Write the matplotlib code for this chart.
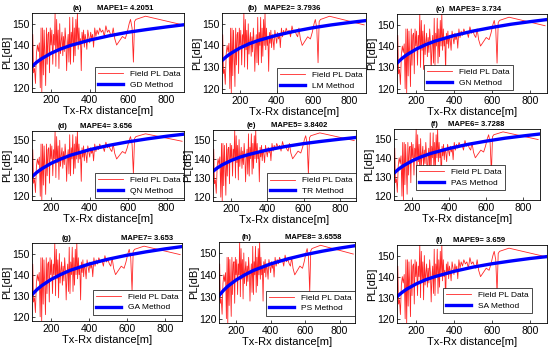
import matplotlib
matplotlib.use("Agg")
import matplotlib.pyplot as plt

plt.rcParams['font.family'] = ['Liberation Sans', 'DejaVu Sans']

# field measurements, same in every panel
dist = [100, 104, 108, 113, 118, 123, 128, 133, 138, 143, 147, 151, 155, 159, 163,
        167, 171, 175, 179, 183, 187, 191, 195, 199, 203, 208, 212, 216, 220, 224,
        228, 232, 236, 240, 244, 248, 252, 256, 260, 264, 268, 272, 276, 280, 284,
        288, 292, 296, 300, 304, 308, 312, 316, 320, 324, 328, 332, 336, 340, 344,
        348, 352, 356, 360, 364, 368, 372, 376, 380, 385, 390, 395, 400, 405, 410,
        415, 420, 426, 432, 438, 445, 452, 460, 468, 476, 484, 492, 500, 508, 515,
        522, 530, 540, 555, 570, 585, 595, 605, 612, 620, 627, 633, 640, 690, 880]
pl_field = [128, 145, 127, 129, 122, 136, 140, 137, 141, 120, 148, 118, 148, 126, 147,
            135, 121, 148, 131, 145, 146, 127, 148, 140, 147, 131, 145, 140, 155, 130,
            152, 138, 147, 129, 150, 136, 142, 146, 135, 144, 137, 148, 142, 128, 140,
            145, 132, 153, 131, 146, 140, 153, 132, 148, 135, 152, 140, 155, 138, 148,
            140, 143, 128, 146, 141, 147, 139, 145, 143, 138, 147, 144, 141, 146, 143,
            145, 139, 148, 144, 147, 145, 148, 146, 147, 144, 149, 146, 147, 145, 144,
            148, 143, 140, 142, 144, 143, 146, 150, 152, 148, 132, 151, 152, 153.5, 149.5]

# fitted curves
fit_x = [100, 125, 150, 200, 250, 300, 400, 500, 600, 700, 800, 890]
gd_fit = [130, 132.0, 133.6, 136.2, 138.2, 139.8, 142.3, 144.3, 146.0, 147.3, 148.5, 149.5]
lm_fit = [133, 134.9, 136.4, 138.9, 140.8, 142.3, 144.7, 146.6, 148.2, 149.5, 150.6, 151.5]
gn_fit = [132, 134.1, 135.8, 138.5, 140.6, 142.3, 144.9, 147.0, 148.7, 150.2, 151.4, 152.4]
qn_fit = [130.5, 132.8, 134.7, 137.7, 140.0, 142.0, 145.0, 147.3, 149.2, 150.8, 152.2, 153.3]
tr_fit = [133.5, 135.3, 136.8, 139.1, 140.9, 142.3, 144.6, 146.4, 147.9, 149.1, 150.2, 151.1]
pas_fit = [132, 134.1, 135.8, 138.5, 140.6, 142.3, 144.9, 147.0, 148.7, 150.2, 151.4, 152.4]
ga_fit = [130.5, 132.8, 134.7, 137.7, 140.0, 142.0, 145.0, 147.3, 149.2, 150.8, 152.2, 153.3]
ps_fit = [130.5, 132.8, 134.7, 137.7, 140.0, 142.0, 145.0, 147.3, 149.2, 150.8, 152.2, 153.3]
sa_fit = [130.5, 132.4, 134.0, 136.5, 138.5, 140.0, 142.5, 144.5, 146.1, 147.4, 148.6, 149.5]

letters = ['(a)', '(b)', '(c)', '(d)', '(e)', '(f)', '(g)', '(h)', '(i)']
mape_titles = ['MAPE1= 4.2051', 'MAPE2= 3.7936', 'MAPE3= 3.734', 'MAPE4= 3.656',
               'MAPE5= 3.8402', 'MAPE6= 3.7288', 'MAPE7= 3.653', 'MAPE8= 3.6558',
               'MAPE9= 3.659']
methods = ['GD Method', 'LM Method', 'GN Method', 'QN Method', 'TR Method',
           'PAS Method', 'GA Method', 'PS Method', 'SA Method']
fits = [gd_fit, lm_fit, gn_fit, qn_fit, tr_fit, pas_fit, ga_fit, ps_fit, sa_fit]

W, H = 550, 351
# axes boxes in pixels: left, right, top, bottom
boxes = [(32, 184, 13, 92), (222, 366, 13, 93), (397, 547, 14, 93),
         (32, 184, 131, 200), (213, 356, 130, 201), (394, 540, 129, 200),
         (32, 182, 243, 321), (219, 355, 242, 323), (397, 547, 245, 323)]
title_pos = [(0.30, 0.61), (0.21, 0.49), (0.29, 0.52), (0.20, 0.49), (0.27, 0.60),
             (0.28, 0.56), (0.23, 0.77), (0.20, 0.69), (0.28, 0.55)]
legend_anchor = [(1.0, 0.0), (1.0, 0.0), (0.77, 0.04), (1.0, 0.03), (1.0, 0.04),
                 (0.76, 0.14), (1.0, 0.08), (1.0, 0.09), (0.90, 0.13)]

fig = plt.figure(figsize=(W / 100, H / 100), dpi=100)

for i in range(9):
    l, r, t, b = boxes[i]
    ax = fig.add_axes([l / W, 1 - b / H, (r - l) / W, (b - t) / H])
    ax.plot(dist, pl_field, color='#ff0000', lw=0.6, alpha=0.85, label='Field PL Data')
    ax.plot(fit_x, fits[i], color='#0000ff', lw=2.4, label=methods[i])
    ax.set_xlim(100, 890)
    ax.set_ylim(118, 155)
    ax.set_xticks([200, 400, 600, 800])
    ax.set_yticks([120, 130, 140, 150])
    ax.tick_params(direction='in', labelsize=7.5, length=2, width=0.5, pad=2)
    for s in ax.spines.values():
        s.set_linewidth(0.6)
    ax.set_xlabel('Tx-Rx distance[m]', fontsize=8, labelpad=1)
    ax.set_ylabel('PL[dB]', fontsize=8, labelpad=0)
    ax.text(title_pos[i][0], 1.015, letters[i], transform=ax.transAxes, ha='center',
            va='bottom', fontsize=5.5, fontweight='bold')
    ax.text(title_pos[i][1], 1.015, mape_titles[i], transform=ax.transAxes, ha='center',
            va='bottom', fontsize=5.5, fontweight='bold')
    leg = ax.legend(loc='lower right', bbox_to_anchor=legend_anchor[i], fontsize=6,
                    fancybox=False, framealpha=1, edgecolor='black', borderaxespad=0,
                    handlelength=3.0, borderpad=0.4, labelspacing=0.3)
    leg.get_frame().set_linewidth(0.5)

fig.savefig('out.png', dpi=100)
